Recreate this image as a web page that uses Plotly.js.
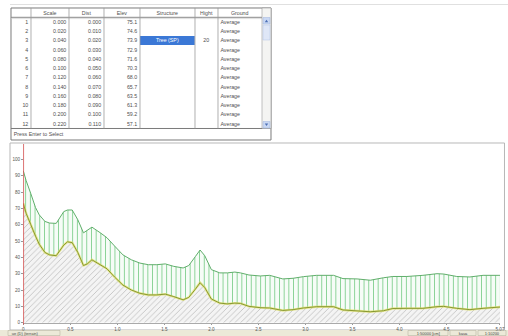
<!DOCTYPE html>
<html><head><meta charset="utf-8">
<script src="https://cdn.plot.ly/plotly-3.0.1.min.js"></script>
<style>
html,body{margin:0;padding:0;background:#fff;overflow:hidden;}
#wrap{width:508px;height:336px;overflow:hidden;position:relative;}
#chart{width:1524px;height:1008px;transform:scale(0.333333);transform-origin:0 0;position:absolute;left:0;top:0;}
</style>
</head><body><div id="wrap"><div id="chart"></div></div>
<script>
// ---- profile data ----
const distX = [0, 0.03, 0.08, 0.13, 0.17, 0.23, 0.28, 0.35, 0.43, 0.47, 0.52, 0.58, 0.64, 0.68, 0.73, 0.82, 0.89, 0.97, 1.06, 1.15, 1.24, 1.33, 1.42, 1.51, 1.6, 1.7, 1.76, 1.83, 1.88, 1.93, 2.0, 2.09, 2.17, 2.25, 2.31, 2.4, 2.52, 2.62, 2.76, 2.87, 2.98, 3.12, 3.3, 3.4, 3.55, 3.69, 3.83, 3.93, 4.08, 4.25, 4.4, 4.47, 4.61, 4.75, 4.89, 5.07];
const terrain = [73, 67, 60, 53, 48, 43, 41.5, 41, 47.5, 49.5, 49, 43, 35, 36, 38.5, 35.5, 33, 28, 23, 20, 18, 17, 17, 17.5, 16, 14, 15.5, 20.5, 24.5, 21.5, 14.5, 12, 11.5, 12, 11.8, 10, 9.2, 9, 7.5, 8, 9, 9.8, 9.8, 7.8, 7.3, 6.7, 7.3, 8.7, 8.8, 8.8, 9.8, 10, 8.8, 8, 8.8, 9.6];
const canopy = [93, 87, 79, 70.5, 66, 62, 61, 60.8, 68, 69, 69, 63, 55, 56.5, 58.5, 55, 52, 47, 41.5, 38.5, 36.5, 35.5, 35.5, 36, 34.5, 33.5, 35, 40.5, 44.5, 41, 32.5, 30.5, 30.5, 31, 30.5, 29.2, 28.6, 29, 26.8, 27.2, 28.2, 29, 29, 27, 26.8, 26, 27.5, 28.3, 28.3, 29, 30, 29.8, 28.3, 28, 29, 29];
const xTickVals = [0, 0.5, 1, 1.5, 2, 2.5, 3, 3.5, 4, 4.5, 5.07];
const xTickText = ['0', '0.5', '1.0', '1.5', '2.0', '2.5', '3.0', '3.5', '4.0', '4.5', '5.07'];
const yTickVals = [0, 10, 20, 30, 40, 50, 60, 70, 80, 90, 100];

// ---- table data ----
const tableHeaders = ['', 'Scale', 'Dist', 'Elev', 'Structure', 'Hight', 'Ground'];
const rowNo = ['1','2','3','4','5','6','7','8','9','10','11','12'];
const scaleCol = ['0.000','0.020','0.040','0.060','0.080','0.100','0.120','0.140','0.160','0.180','0.200','0.220'];
const distCol = ['0.000','0.010','0.020','0.030','0.040','0.050','0.060','0.070','0.080','0.090','0.100','0.110'];
const elevCol = ['75.1','74.6','73.9','72.9','71.6','70.3','68.0','65.7','63.5','61.3','59.2','57.1'];
const structureCol = ['','','Tree (SP)','','','','','','','','',''];
const hightCol = ['','','20','','','','','','','','',''];
const groundCol = ['Average','Average','Average','Average','Average','Average','Average','Average','Average','Average','Average','Average'];
const statusLeft = 'ue (D) (terrain)';
const statusRight = ['1:50000 [cm]', 'kaua', '1:10200'];
const footerText = 'Press Enter to Select';

// ---- pixel helpers (base 508x336, rendered at 3x then scaled down) ----
const S = 3;
const W = 508, H = 336;
const px = v => v / W;
const py = v => 1 - v / H;
const FONT = 'Liberation Sans, Arial, sans-serif';
const TXT = '#505050';

const selColor = '#3b78d6';
const structFill = structureCol.map(s => s ? selColor : 'white');
const structFont = structureCol.map(s => s ? 'white' : TXT);

const tableTrace = {
  type: 'table',
  domain: {x: [px(11), px(262)], y: [py(128), py(8)]},
  columnwidth: [20, 38, 35, 36, 55, 23, 44],
  header: {
    values: tableHeaders,
    height: 9.3 * S,
    align: 'center',
    fill: {color: 'white'},
    line: {width: 0, color: 'rgba(0,0,0,0)'},
    font: {family: FONT, size: 5.3 * S, color: TXT}
  },
  cells: {
    values: [rowNo, scaleCol, distCol, elevCol, structureCol, hightCol, groundCol],
    height: 9.25 * S,
    align: ['right', 'right', 'right', 'right', 'center', 'center', 'left'],
    fill: {color: ['white', 'white', 'white', 'white', structFill, 'white', 'white']},
    line: {width: 0, color: 'rgba(0,0,0,0)'},
    font: {family: FONT, size: 5.3 * S, color: [TXT, TXT, TXT, TXT, structFont, TXT, TXT]}
  }
};

const groundTrace = {
  type: 'scatter', mode: 'lines', x: distX, y: terrain,
  fill: 'tozeroy',
  fillcolor: '#f1f1f1',
  fillpattern: {shape: '/', fgcolor: '#bdbdbd', bgcolor: '#f4f4f4', size: 4 * S, solidity: 0.2},
  line: {width: 0, color: 'rgba(0,0,0,0)'},
  hoverinfo: 'skip', showlegend: false
};
const canopyTrace = {
  type: 'scatter', mode: 'lines', x: distX, y: canopy,
  fill: 'tonexty',
  fillcolor: '#f4fbf5',
  fillpattern: {shape: '|', fgcolor: '#86d193', bgcolor: '#f6fcf7', size: 4.7 * S, solidity: 0.2},
  line: {width: 1 * S, color: '#5fae6a'},
  hoverinfo: 'skip', showlegend: false
};
const glowTrace = {
  type: 'scatter', mode: 'lines', x: distX, y: terrain,
  line: {width: 2.4 * S, color: 'rgba(225,225,110,0.7)'},
  hoverinfo: 'skip', showlegend: false
};
const terrainLine = {
  type: 'scatter', mode: 'lines', x: distX, y: terrain,
  line: {width: 0.9 * S, color: '#7d8f25'},
  hoverinfo: 'skip', showlegend: false
};

const shapes = [
  {type: 'line', xref: 'paper', yref: 'paper', x0: px(10), x1: px(508), y0: py(4.5), y1: py(4.5), line: {color: '#e0e0e0', width: 1 * S}},
  {type: 'rect', xref: 'paper', yref: 'paper', x0: px(10), x1: px(504.5), y0: py(330), y1: py(143), line: {color: '#b8b8b8', width: 1 * S}, layer: 'below'},
  {type: 'rect', xref: 'paper', yref: 'paper', x0: px(0), x1: px(508), y0: py(336), y1: py(330), fillcolor: '#ece9d8', line: {width: 0}, layer: 'below'},
  {type: 'rect', xref: 'paper', yref: 'paper', x0: px(8), x1: px(60), y0: py(335.5), y1: py(330.5), line: {color: '#b0ab98', width: 0.5 * S}},
  {type: 'rect', xref: 'paper', yref: 'paper', x0: px(408), x1: px(448), y0: py(335.5), y1: py(330.5), line: {color: '#b0ab98', width: 0.5 * S}},
  {type: 'rect', xref: 'paper', yref: 'paper', x0: px(450), x1: px(476), y0: py(335.5), y1: py(330.5), line: {color: '#b0ab98', width: 0.5 * S}},
  {type: 'rect', xref: 'paper', yref: 'paper', x0: px(478), x1: px(506), y0: py(335.5), y1: py(330.5), line: {color: '#b0ab98', width: 0.5 * S}},
  {type: 'line', xref: 'x', yref: 'paper', x0: 0, x1: 0, y0: py(324.5), y1: py(144), line: {color: '#d04545', width: 1.5 * S}},
  {type: 'rect', xref: 'paper', yref: 'paper', x0: px(11), x1: px(271), y0: py(140), y1: py(8), line: {color: '#7a7a7a', width: 1 * S}},
  {type: 'line', xref: 'paper', yref: 'paper', x0: px(11), x1: px(271), y0: py(128.5), y1: py(128.5), line: {color: '#7a7a7a', width: 1 * S}},
  {type: 'line', xref: 'paper', yref: 'paper', x0: px(11), x1: px(262), y0: py(17.3), y1: py(17.3), line: {color: '#8a8a8a', width: 1 * S}},
  {type: 'line', xref: 'paper', yref: 'paper', x0: px(11), x1: px(262), y0: py(18.6), y1: py(18.6), line: {color: '#c8c8c8', width: 0.6 * S}},
  {type: 'rect', xref: 'paper', yref: 'paper', x0: px(262), x1: px(271), y0: py(128.5), y1: py(8), fillcolor: '#f4f4f2', line: {color: '#9a9a9a', width: 0.6 * S}},
  {type: 'rect', xref: 'paper', yref: 'paper', x0: px(263), x1: px(270), y0: py(24), y1: py(17.5), fillcolor: '#c9d8f3', line: {color: '#9fb4de', width: 0.5 * S}},
  {type: 'rect', xref: 'paper', yref: 'paper', x0: px(263), x1: px(270), y0: py(40), y1: py(25), fillcolor: '#dfe7f7', line: {color: '#b5c4e5', width: 0.5 * S}},
  {type: 'rect', xref: 'paper', yref: 'paper', x0: px(263), x1: px(270), y0: py(128), y1: py(121.5), fillcolor: '#c9d8f3', line: {color: '#9fb4de', width: 0.5 * S}},
  {type: 'path', xref: 'paper', yref: 'paper', path: `M ${px(264.8)} ${py(22.3)} L ${px(266.5)} ${py(19.8)} L ${px(268.2)} ${py(22.3)} Z`, fillcolor: '#4d6fb5', line: {width: 0}},
  {type: 'path', xref: 'paper', yref: 'paper', path: `M ${px(264.8)} ${py(123.5)} L ${px(266.5)} ${py(126)} L ${px(268.2)} ${py(123.5)} Z`, fillcolor: '#4d6fb5', line: {width: 0}}
];
[31, 69, 104, 140, 195, 218].forEach(xx => {
  shapes.push({type: 'line', xref: 'paper', yref: 'paper', x0: px(xx), x1: px(xx), y0: py(128.5), y1: py(8), line: {color: '#9a9a9a', width: 0.8 * S}});
});

const smallFont = {family: FONT, size: 4 * S, color: '#444'};
const annotations = [
  {xref: 'paper', yref: 'paper', x: px(13), y: py(134.5), xanchor: 'left', yanchor: 'middle', text: footerText, showarrow: false, font: {family: FONT, size: 5.3 * S, color: TXT}},
  {xref: 'paper', yref: 'paper', x: px(11), y: py(333.3), xanchor: 'left', yanchor: 'middle', text: statusLeft, showarrow: false, font: smallFont},
  {xref: 'paper', yref: 'paper', x: px(428), y: py(333.3), xanchor: 'center', yanchor: 'middle', text: statusRight[0], showarrow: false, font: smallFont},
  {xref: 'paper', yref: 'paper', x: px(463), y: py(333.3), xanchor: 'center', yanchor: 'middle', text: statusRight[1], showarrow: false, font: smallFont},
  {xref: 'paper', yref: 'paper', x: px(492), y: py(333.3), xanchor: 'center', yanchor: 'middle', text: statusRight[2], showarrow: false, font: smallFont}
];

const layout = {
  width: W * S, height: H * S,
  margin: {l: 0, r: 0, t: 0, b: 0, pad: 0},
  paper_bgcolor: 'white', plot_bgcolor: 'white',
  showlegend: false,
  xaxis: {
    domain: [px(23.3), px(500)], range: [0, 5.07],
    tickvals: xTickVals, ticktext: xTickText,
    ticks: 'outside', ticklen: 1.5 * S, tickcolor: '#999', tickwidth: 1 * S,
    showline: true, linecolor: '#aaaaaa', linewidth: 1 * S,
    showgrid: false, zeroline: false,
    tickfont: {family: FONT, size: 4.6 * S, color: '#555'}
  },
  yaxis: {
    domain: [py(322.7), py(144)], range: [0, 109.4],
    tickvals: yTickVals,
    ticks: 'outside', ticklen: 2 * S, tickcolor: '#999', tickwidth: 1 * S,
    showline: false, showgrid: false, zeroline: false,
    tickfont: {family: FONT, size: 4.6 * S, color: '#555'}
  },
  shapes: shapes,
  annotations: annotations
};

Plotly.newPlot('chart', [tableTrace, groundTrace, canopyTrace, glowTrace, terrainLine], layout, {staticPlot: true, displayModeBar: false});
</script>
</body></html>
